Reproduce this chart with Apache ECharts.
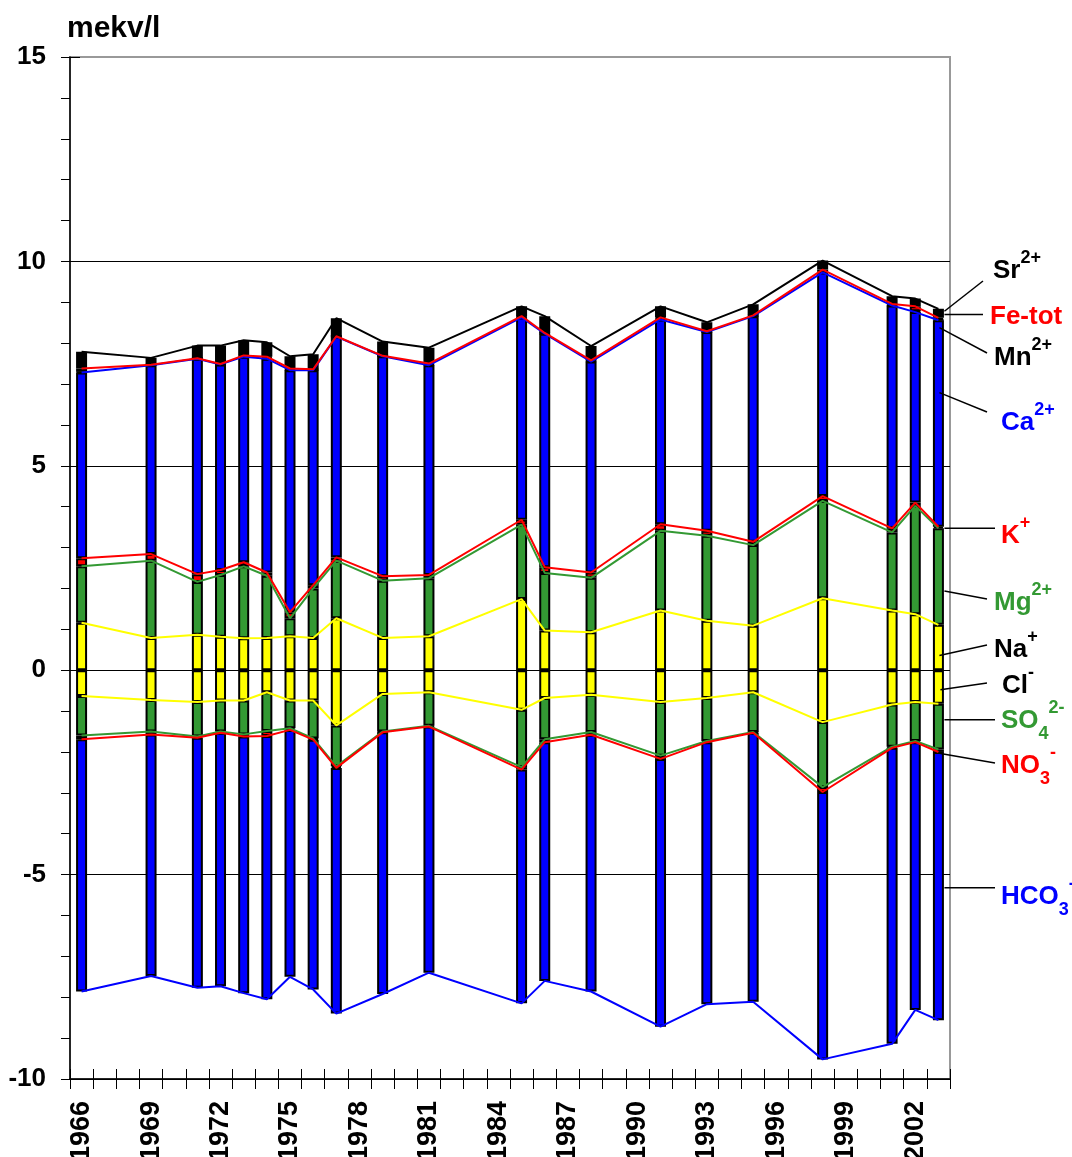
<!DOCTYPE html>
<html>
<head>
<meta charset="utf-8">
<title>Jonsammansättning mekv/l 1966–2003</title>
<script src="https://cdn.jsdelivr.net/npm/echarts@6/dist/echarts.min.js"></script>
<style>
  html, body { margin: 0; padding: 0; background: #ffffff; }
  #chart { width: 1072px; height: 1157px; }
</style>
</head>
<body>
<div id="chart"></div>
<script>
// ---- Data (mekv/l) ----------------------------------------------------
// Category axis: every year from 1966 to 2003
const axisYears = [];
for (let y = 1966; y <= 2003; y++) axisYears.push(String(y));

// Years with a sample
const sampleYears = [1966, 1969, 1971, 1972, 1973, 1974, 1975, 1976, 1977, 1979, 1981,
                     1985, 1986, 1988, 1991, 1993, 1995, 1998, 2001, 2002, 2003];

// Cations (stacked upwards from zero)
const na = [1.16, 0.79, 0.87, 0.82, 0.78, 0.79, 0.83, 0.79, 1.27, 0.79, 0.83, 1.74, 0.97, 0.93, 1.46, 1.21, 1.09, 1.76, 1.46, 1.37, 1.11];
const mg = [1.38, 1.89, 1.29, 1.51, 1.76, 1.52, 0.44, 1.21, 1.41, 1.40, 1.42, 1.82, 1.41, 1.33, 1.95, 2.08, 1.97, 2.38, 1.91, 2.65, 2.36];
const k  = [0.20, 0.16, 0.19, 0.12, 0.10, 0.08, 0.15, 0.08, 0.08, 0.11, 0.08, 0.12, 0.14, 0.13, 0.16, 0.12, 0.08, 0.12, 0.10, 0.08, 0.04];
const ca = [4.54, 4.62, 5.27, 5.03, 5.03, 5.23, 5.92, 5.26, 5.40, 5.38, 5.13, 4.95, 5.71, 5.16, 5.01, 4.86, 5.52, 5.47, 5.45, 4.66, 5.05];
const mn = [0.02, 0.01, 0.01, 0.01, 0.01, 0.02, 0.01, 0.01, 0.01, 0.01, 0.01, 0.01, 0.01, 0.01, 0.02, 0.01, 0.01, 0.02, 0.01, 0.02, 0.02];
const fe = [0.08, 0.00, 0.00, 0.00, 0.02, 0.03, 0.03, 0.01, 0.00, 0.00, 0.03, 0.02, 0.01, 0.02, 0.03, 0.01, 0.01, 0.05, 0.03, 0.12, 0.04];
const sr = [0.41, 0.17, 0.31, 0.45, 0.37, 0.35, 0.30, 0.37, 0.44, 0.35, 0.39, 0.24, 0.41, 0.35, 0.27, 0.22, 0.27, 0.22, 0.19, 0.19, 0.22];

// Anions (stacked downwards from zero)
const cl   = [0.63, 0.73, 0.78, 0.74, 0.74, 0.54, 0.74, 0.74, 1.35, 0.58, 0.54, 0.97, 0.68, 0.60, 0.78, 0.68, 0.54, 1.27, 0.84, 0.78, 0.82];
const so4  = [0.97, 0.77, 0.84, 0.76, 0.83, 0.95, 0.68, 0.93, 1.00, 0.92, 0.82, 1.40, 1.01, 0.91, 1.31, 1.05, 0.97, 1.59, 1.03, 0.95, 1.12];
const no3  = [0.09, 0.07, 0.03, 0.03, 0.05, 0.12, 0.04, 0.03, 0.04, 0.02, 0.02, 0.06, 0.07, 0.07, 0.08, 0.03, 0.02, 0.12, 0.03, 0.03, 0.06];
const hco3 = [6.17, 5.91, 6.12, 6.20, 6.28, 6.44, 6.04, 6.11, 6.01, 6.40, 6.02, 5.72, 5.84, 6.28, 6.55, 6.41, 6.58, 6.54, 7.24, 6.55, 6.56];

// Y axis range and label step
const yMin = -10, yMax = 15, yStep = 5;

// ---- Colours and fonts -----------------------------------------------
const BLUE = '#0000ff', GREEN = '#339933', YELLOW = '#ffff00', RED = '#ff0000', BLACK = '#000000';
const FONT = '"Liberation Sans", Arial, Helvetica, sans-serif';

// ---- Helpers ----------------------------------------------------------
// Spread sample values over the full year axis (null where no sample)
function onAxis(values, sign) {
  const out = axisYears.map(() => null);
  sampleYears.forEach((yr, i) => {
    out[axisYears.indexOf(String(yr))] = +(sign * values[i]).toFixed(2);
  });
  return out;
}
// Running sum of several components, per sample
function cumulative(parts) {
  return sampleYears.map((_, i) => parts.reduce((s, p) => s + p[i], 0));
}

// Stacked segments, bottom-up for cations, top-down for anions
const barDefs = [
  { name: 'Na+',    vals: na,   sign: 1,  color: YELLOW },
  { name: 'Mg2+',   vals: mg,   sign: 1,  color: GREEN },
  { name: 'K+',     vals: k,    sign: 1,  color: RED },
  { name: 'Ca2+',   vals: ca,   sign: 1,  color: BLUE },
  { name: 'Mn2+',   vals: mn,   sign: 1,  color: BLACK },
  { name: 'Fe-tot', vals: fe,   sign: 1,  color: RED },
  { name: 'Sr2+',   vals: sr,   sign: 1,  color: BLACK },
  { name: 'Cl-',    vals: cl,   sign: -1, color: YELLOW },
  { name: 'SO42-',  vals: so4,  sign: -1, color: GREEN },
  { name: 'NO3-',   vals: no3,  sign: -1, color: RED },
  { name: 'HCO3-',  vals: hco3, sign: -1, color: BLUE }
];

// Boundary lines joining the stacked levels between sampling years
const lineDefs = [
  { parts: [na],                          sign: 1,  color: YELLOW },
  { parts: [na, mg],                      sign: 1,  color: GREEN },
  { parts: [na, mg, k],                   sign: 1,  color: RED },
  { parts: [na, mg, k, ca],               sign: 1,  color: BLUE },
  { parts: [na, mg, k, ca, mn, fe],       sign: 1,  color: RED },
  { parts: [na, mg, k, ca, mn, fe, sr],   sign: 1,  color: BLACK },
  { parts: [cl],                          sign: -1, color: YELLOW },
  { parts: [cl, so4],                     sign: -1, color: GREEN },
  { parts: [cl, so4, no3],                sign: -1, color: RED },
  { parts: [cl, so4, no3, hco3],          sign: -1, color: BLUE }
];

const series = [];
barDefs.forEach(b => {
  series.push({
    type: 'bar',
    name: b.name,
    stack: 'ions',
    barWidth: 11,
    z: 2,
    data: onAxis(b.vals, b.sign),
    itemStyle: { color: b.color, borderColor: BLACK, borderWidth: 2 },
    emphasis: { disabled: true }
  });
});
lineDefs.forEach(l => {
  series.push({
    type: 'line',
    z: 4,
    data: onAxis(cumulative(l.parts), l.sign),
    connectNulls: true,
    symbol: 'none',
    lineStyle: { color: l.color, width: 2 },
    emphasis: { disabled: true },
    silent: true
  });
});

const GRID = { left: 70, top: 57, width: 880, height: 1022 };

const chart = echarts.init(document.getElementById('chart'), null, { renderer: 'canvas' });
chart.setOption({
  animation: false,
  backgroundColor: '#ffffff',
  grid: Object.assign({
    show: true, borderColor: '#999999', borderWidth: 2, backgroundColor: 'transparent',
    containLabel: false, outerBoundsMode: 'none'
  }, GRID),
  xAxis: [
    {
      type: 'category',
      data: axisYears,
      position: 'bottom',
      boundaryGap: true,
      axisLine: { onZero: false, lineStyle: { color: BLACK, width: 1.5 } },
      axisTick: { show: true, interval: 0, length: 10, lineStyle: { color: BLACK, width: 1 } },
      axisLabel: {
        interval: 2, rotate: 90, margin: 22,
        fontFamily: FONT, fontSize: 27, fontWeight: 'bold', color: BLACK
      },
      splitLine: { show: false }
    },
    {
      type: 'category',
      data: axisYears,
      position: 'bottom',
      boundaryGap: true,
      axisLine: { show: false, onZero: false },
      axisTick: { show: true, inside: true, interval: 0, length: 10, lineStyle: { color: BLACK, width: 1 } },
      axisLabel: { show: false },
      splitLine: { show: false }
    }
  ],
  yAxis: [
    {
      type: 'value',
      position: 'left',
      min: yMin, max: yMax, interval: yStep,
      axisLine: { show: true, onZero: false, lineStyle: { color: BLACK, width: 1.5 } },
      axisTick: { show: true, length: 9, lineStyle: { color: BLACK, width: 1 } },
      minorTick: { show: true, splitNumber: 5, length: 9, lineStyle: { color: BLACK, width: 1 } },
      axisLabel: { margin: 24, fontFamily: FONT, fontSize: 26, fontWeight: 'bold', color: BLACK },
      splitLine: {
        show: true,
        lineStyle: { width: 1, color: [BLACK, BLACK, BLACK, BLACK, BLACK, 'rgba(0,0,0,0)'] }
      }
    },
    {
      type: 'value',
      position: 'left',
      min: yMin, max: yMax, interval: yStep,
      axisLine: { show: false, onZero: false },
      axisTick: { show: true, inside: true, length: 10, lineStyle: { color: BLACK, width: 1 } },
      axisLabel: { show: false },
      splitLine: { show: false }
    }
  ],
  series: series
});

// ---- Ion labels with leader lines at the last sampling year -----------
const lastIdx = axisYears.indexOf(String(sampleYears[sampleYears.length - 1]));
const notes = [
  { base: 'Sr',     sup: '2+', color: BLACK,  at: 8.78,  dx: 6, end: [983, 281], tx: 993,  ty: 271 },
  { base: 'Fe-tot',            color: RED,    at: 8.70,  dx: 6, end: [983, null], tx: 990, ty: 317 },
  { base: 'Mn',     sup: '2+', color: BLACK,  at: 8.38,  dx: 1, end: [987, 353], tx: 994,  ty: 358 },
  { base: 'Ca',     sup: '2+', color: BLUE,   at: 6.79,  dx: 1, end: [987, 412], tx: 1001, ty: 423 },
  { base: 'K',      sup: '+',  color: RED,    at: 3.47,  dx: 6, end: [995, null], tx: 1001, ty: 536 },
  { base: 'Mg',     sup: '2+', color: GREEN,  at: 1.94,  dx: 6, end: [987, 599], tx: 994,  ty: 603 },
  { base: 'Na',     sup: '+',  color: BLACK,  at: 0.36,  dx: 1, end: [987, 645], tx: 994,  ty: 650 },
  { base: 'Cl',     sup: '-',  color: BLACK,  at: -0.48, dx: 2, end: [987, 683], tx: 1002, ty: 686 },
  { base: 'SO', sub: '4', sup: '2-', color: GREEN, at: -1.21, dx: 6, end: [995, null], tx: 1001, ty: 721 },
  { base: 'NO', sub: '3', sup: '-',  color: RED,   at: -2.04, dx: 2, end: [995, 763], tx: 1001, ty: 766 },
  { base: 'HCO', sub: '3', sup: '-', color: BLUE,  at: -5.32, dx: 6, end: [995, null], tx: 1001, ty: 897 }
];

const graphics = [];
notes.forEach(n => {
  const p = chart.convertToPixel({ xAxisIndex: 0, yAxisIndex: 0 }, [lastIdx, n.at]);
  const x1 = p[0] + n.dx, y1 = p[1];
  const x2 = n.end[0], y2 = n.end[1] === null ? y1 : n.end[1];
  graphics.push({
    type: 'line', z: 10, silent: true,
    shape: { x1: x1, y1: y1, x2: x2, y2: y2 },
    style: { stroke: BLACK, lineWidth: 1.5 }
  });
  let txt = '{b|' + n.base + '}';
  if (n.sub) txt += '{sub|' + n.sub + '}';
  if (n.sup) txt += '{sup|' + n.sup + '}';
  graphics.push({
    type: 'text', z: 10, silent: true,
    style: {
      text: txt, x: n.tx, y: n.ty, align: 'left', verticalAlign: 'middle',
      rich: {
        b:   { fontFamily: FONT, fontSize: 26, fontWeight: 'bold', fill: n.color, lineHeight: 44, verticalAlign: 'middle' },
        sup: { fontFamily: FONT, fontSize: 18, fontWeight: 'bold', fill: n.color, verticalAlign: 'top' },
        sub: { fontFamily: FONT, fontSize: 18, fontWeight: 'bold', fill: n.color, verticalAlign: 'bottom' }
      }
    }
  });
});

// Unit caption above the value axis
graphics.push({
  type: 'text', z: 10, silent: true,
  style: {
    text: 'mekv/l', x: 67, y: 29, align: 'left', verticalAlign: 'middle',
    fontFamily: FONT, fontSize: 30, fontWeight: 'bold', fill: BLACK
  }
});

chart.setOption({ graphic: graphics });
</script>
</body>
</html>
